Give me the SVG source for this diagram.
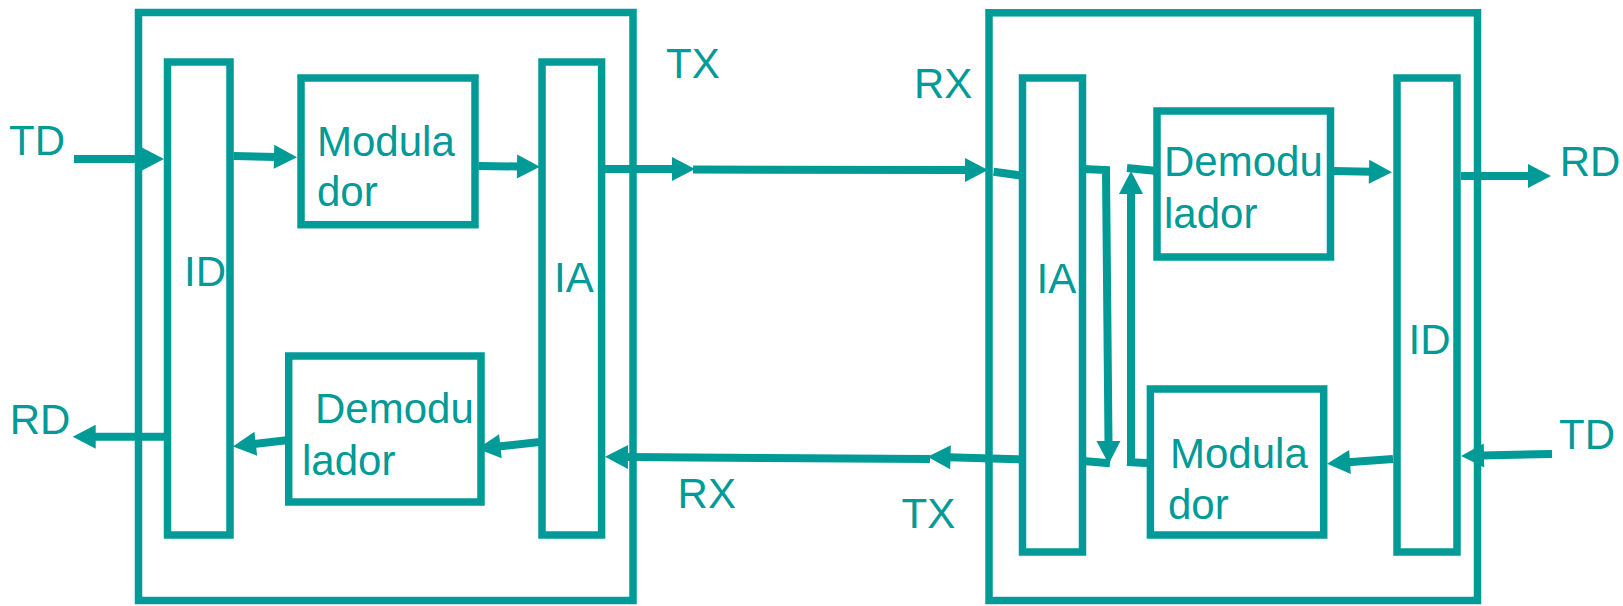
<svg xmlns="http://www.w3.org/2000/svg" width="1623" height="606" viewBox="0 0 1623 606">
<style>
.box{fill:none;stroke:#009A97;stroke-width:7.5}
.ln{fill:none;stroke:#009A97;stroke-width:8}
.t{font-family:"Liberation Sans",Arial,sans-serif;font-size:42px;fill:#009A97}
</style>
<defs>
<marker id="ah" markerUnits="userSpaceOnUse" markerWidth="24" markerHeight="24" refX="2" refY="12" orient="auto" overflow="visible">
<path d="M0,0 L23,12 L0,24 Z" fill="#009A97"/>
</marker>
</defs>
<rect width="1623" height="606" fill="#ffffff"/>

<g id="station-left">
<rect class="box" x="138.5" y="12.5" width="494.5" height="588"/>
</g>
<g id="id-left">
<rect class="box" x="167.5" y="62" width="62.5" height="473"/>
<text class="t" x="184" y="285.7">ID</text>
</g>
<g id="modulador-left">
<rect class="box" x="301" y="78" width="174" height="146.7"/>
<text class="t" x="317" y="155.7">Modula</text>
<text class="t" x="317" y="205.7">dor</text>
</g>
<g id="demodulador-left">
<rect class="box" x="288.7" y="356" width="192.3" height="146"/>
<text class="t" x="315" y="423.3">Demodu</text>
<text class="t" x="302" y="475">lador</text>
</g>
<g id="ia-left">
<rect class="box" x="542" y="62" width="59.6" height="473"/>
<text class="t" x="554" y="291.7">IA</text>
</g>

<g id="station-right">
<rect class="box" x="989" y="12.8" width="488.5" height="587.7"/>
</g>
<g id="ia-right">
<rect class="box" x="1022.5" y="78" width="60" height="474"/>
<text class="t" x="1036.5" y="292.7">IA</text>
</g>
<g id="demodulador-right">
<rect class="box" x="1157" y="111" width="173.5" height="146"/>
<text class="t" x="1164" y="175.7">Demodu</text>
<text class="t" x="1164" y="227.7">lador</text>
</g>
<g id="modulador-right">
<rect class="box" x="1150.4" y="389" width="173.3" height="146"/>
<text class="t" x="1170" y="468.3">Modula</text>
<text class="t" x="1168" y="519">dor</text>
</g>
<g id="id-right">
<rect class="box" x="1397" y="78" width="60" height="474"/>
<text class="t" x="1408.5" y="354.3">ID</text>
</g>

<g id="connectors">
<line class="ln" x1="74" y1="159" x2="143" y2="159" marker-end="url(#ah)"/>
<line class="ln" x1="233.5" y1="156" x2="276" y2="156.9" marker-end="url(#ah)"/>
<line class="ln" x1="478.6" y1="166" x2="519" y2="166.5" marker-end="url(#ah)"/>
<line class="ln" x1="605" y1="169" x2="674" y2="169" marker-end="url(#ah)"/>
<line class="ln" x1="693" y1="169.5" x2="967" y2="170" marker-end="url(#ah)"/>
<line class="ln" x1="993.6" y1="171.7" x2="1022" y2="175.7"/>
<polyline class="ln" points="1083,169 1106,170 1108.5,443" marker-end="url(#ah)"/>
<line class="ln" x1="1083" y1="461" x2="1110" y2="463.3"/>
<line class="ln" x1="1131" y1="465" x2="1131" y2="192" marker-end="url(#ah)"/>
<line class="ln" x1="1127" y1="168" x2="1157" y2="171"/>
<line class="ln" x1="1127" y1="462" x2="1150.4" y2="463.3"/>
<line class="ln" x1="1334" y1="171" x2="1371" y2="171.8" marker-end="url(#ah)"/>
<line class="ln" x1="1461" y1="176" x2="1530" y2="176" marker-end="url(#ah)"/>
<line class="ln" x1="1552" y1="454" x2="1482" y2="455.5" marker-end="url(#ah)"/>
<line class="ln" x1="1393" y1="459" x2="1348" y2="462.2" marker-end="url(#ah)"/>
<line class="ln" x1="1022" y1="459.3" x2="948.5" y2="457.3" marker-end="url(#ah)"/>
<polyline class="ln" points="930,459 693,457.5 626,457" marker-end="url(#ah)"/>
<line class="ln" x1="542" y1="441.7" x2="498.4" y2="446.5" marker-end="url(#ah)"/>
<line class="ln" x1="288.7" y1="440" x2="253.8" y2="444" marker-end="url(#ah)"/>
<line class="ln" x1="167.5" y1="436.7" x2="93.7" y2="436.7" marker-end="url(#ah)"/>
</g>

<g id="labels">
<text class="t" x="9" y="155">TD</text>
<text class="t" x="9.7" y="434">RD</text>
<text class="t" x="666" y="78.3">TX</text>
<text class="t" x="914" y="97.7">RX</text>
<text class="t" x="677.6" y="508.3">RX</text>
<text class="t" x="901.5" y="527.7">TX</text>
<text class="t" x="1559.7" y="175.7">RD</text>
<text class="t" x="1559" y="449.3">TD</text>
</g>
</svg>
